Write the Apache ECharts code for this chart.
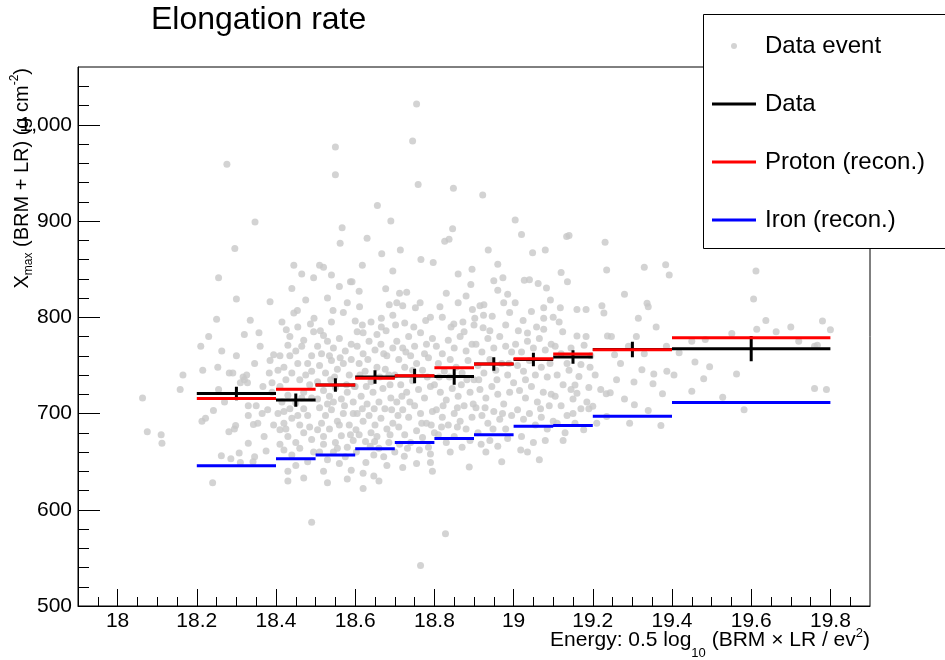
<!DOCTYPE html>
<html>
<head>
<meta charset="utf-8">
<script src="https://cdn.jsdelivr.net/npm/echarts@6/dist/echarts.min.js"></script>
<style>
html, body { margin: 0; padding: 0; background: #fff; }
#chart { width: 945px; height: 660px; }
</style>
</head>
<body>
<div id="chart"></div>
<script>
var FONT = '"Liberation Sans", Arial, sans-serif'

// bin edges of the profile, in 0.5 log10(BRM x LR / eV^2)
var binEdges = [18.2, 18.4, 18.5, 18.6, 18.7, 18.8, 18.9, 19.0, 19.1, 19.2, 19.4, 19.8]
var dataMean = [720.8, 713.9, 729.5, 738, 739, 738.5, 751.4, 756.2, 758.7, 766.5, 767.4]
var dataErr = [7, 7, 7, 7, 7.5, 8.5, 7, 7, 7, 8, 13]
var protonMean = [715.6, 725.3, 729.5, 736.5, 739.2, 747.6, 751.4, 757, 761.8, 766.3, 778.8]
var ironMean = [645.8, 653, 657, 663.5, 670, 674, 678, 686.8, 687.5, 697.2, 711.5]

// ticks
var xMajorTicks = [18, 18.2, 18.4, 18.6, 18.8, 19, 19.2, 19.4, 19.6, 19.8]
var xMinorTicks = [17.95, 18.05, 18.1, 18.15, 18.25, 18.3, 18.35, 18.45, 18.5, 18.55, 18.65, 18.7, 18.75,
	18.85, 18.9, 18.95, 19.05, 19.1, 19.15, 19.25, 19.3, 19.35, 19.45, 19.5, 19.55, 19.65, 19.7, 19.75, 19.85]
var yMajorTicks = [500, 600, 700, 800, 900, 1000]
var yMinorTicks = [520, 540, 560, 580, 620, 640, 660, 680, 720, 740, 760, 780, 820, 840, 860, 880,
	920, 940, 960, 980, 1020, 1040]

// individual events [energy, Xmax]
var events = [
	[18.063, 716], [18.075, 681], [18.11, 678], [18.112, 669], [18.158, 725], [18.165, 740],
	[18.276, 959], [18.347, 899], [18.296, 871.5], [18.255, 841], [18.385, 816], [18.335, 797], [18.32, 782],
	[18.357, 784], [18.24, 628], [18.263, 765], [18.253, 748], [18.282, 742], [18.291, 742], [18.317, 738],
	[18.326, 740], [18.346, 752], [18.383, 742], [18.394, 761], [18.385, 755], [18.31, 732], [18.328, 732],
	[18.367, 728], [18.255, 725], [18.33, 708], [18.35, 708], [18.365, 700], [18.379, 704], [18.242, 703],
	[18.213, 692], [18.222, 695], [18.298, 687.5], [18.295, 684], [18.281, 681], [18.33, 698], [18.343, 688.5],
	[18.354, 690], [18.375, 661], [18.262, 656], [18.286, 653], [18.307, 659], [18.31, 649], [18.346, 655],
	[18.342, 650], [18.32, 735], [18.25, 798], [18.3, 819], [18.21, 770], [18.23, 780], [18.394, 688], [18.27, 712],
	[18.36, 770], [18.215, 745], [18.39, 722], [18.37, 676], [18.33, 669], [18.39, 732], [18.3, 760],
	// 18.4 - 18.5
	[18.41, 760], [18.42, 748], [18.43, 771], [18.45, 765], [18.47, 776], [18.48, 752], [18.44, 742], [18.46, 735],
	[18.49, 744], [18.41, 728], [18.43, 719], [18.45, 711], [18.47, 722], [18.49, 716], [18.42, 702], [18.44, 695],
	[18.46, 688], [18.48, 698], [18.41, 683], [18.43, 676], [18.45, 670], [18.47, 680], [18.49, 673], [18.42, 662],
	[18.44, 657], [18.46, 664], [18.48, 650], [18.45, 646], [18.42, 690], [18.47, 705], [18.485, 730], [18.415, 795],
	[18.435, 780], [18.455, 790], [18.475, 818], [18.495, 785], [18.44, 830], [18.465, 845], [18.49, 760],
	[18.43, 640], [18.47, 633], [18.445, 854], [18.454, 807], [18.445, 804.5], [18.426, 787], [18.496, 799],
	[18.487, 793], [18.495, 841], [18.43, 630], [18.49, 587], [18.41, 668],
	[18.405, 745], [18.425, 735], [18.455, 752], [18.475, 740], [18.415, 712], [18.435, 705], [18.465, 716],
	[18.485, 686], [18.455, 698], [18.425, 684], [18.405, 700], [18.495, 660], [18.465, 770], [18.435, 760],
	// 18.5 - 18.6
	[18.51, 854], [18.52, 852], [18.54, 844], [18.56, 832], [18.55, 977], [18.55, 948], [18.567, 893], [18.562, 877],
	[18.52, 781], [18.544, 807], [18.588, 837], [18.592, 837], [18.505, 770], [18.515, 762], [18.53, 775],
	[18.545, 768], [18.56, 778], [18.575, 765], [18.59, 772], [18.51, 750], [18.525, 742], [18.54, 755],
	[18.555, 746], [18.57, 752], [18.585, 740], [18.505, 733], [18.52, 724], [18.535, 718], [18.55, 727],
	[18.565, 715], [18.58, 722], [18.595, 712], [18.51, 706], [18.525, 698], [18.54, 704], [18.555, 692],
	[18.57, 700], [18.585, 688], [18.505, 683], [18.52, 676], [18.535, 684], [18.55, 670], [18.565, 677],
	[18.58, 665], [18.595, 672], [18.51, 660], [18.53, 652], [18.545, 660], [18.56, 648], [18.575, 655],
	[18.59, 641], [18.52, 640], [18.54, 795], [18.57, 805], [18.58, 815], [18.53, 820], [18.6, 796], [18.515, 690],
	[18.548, 738], [18.578, 730], [18.53, 710], [18.56, 688], [18.595, 700], [18.53, 628], [18.58, 632],
	[18.512, 786], [18.535, 760], [18.562, 758], [18.59, 756], [18.505, 715], [18.545, 712], [18.573, 708],
	[18.52, 668], [18.555, 664], [18.588, 678], [18.598, 728], [18.538, 735],
	// 18.6 - 18.7
	[18.656, 916], [18.69, 900], [18.63, 882], [18.667, 866], [18.618, 854], [18.695, 848], [18.61, 827],
	[18.677, 829.5], [18.611, 811], [18.686, 813], [18.666, 799], [18.695, 802], [18.618, 792], [18.666, 790],
	[18.605, 785], [18.62, 784], [18.655, 782], [18.62, 638], [18.647, 635], [18.627, 649], [18.647, 657],
	[18.672, 655], [18.602, 683], [18.626, 671], [18.649, 671], [18.605, 770], [18.62, 762], [18.635, 775],
	[18.65, 766], [18.665, 772], [18.68, 760], [18.695, 768], [18.61, 752], [18.625, 744], [18.64, 733],
	[18.655, 748], [18.67, 726], [18.685, 740], [18.6, 728], [18.615, 718], [18.63, 710], [18.645, 722],
	[18.66, 712], [18.675, 705], [18.69, 716], [18.605, 700], [18.62, 692], [18.635, 698], [18.65, 688],
	[18.665, 695], [18.68, 684], [18.695, 690], [18.61, 678], [18.64, 680], [18.66, 664], [18.685, 670],
	[18.7, 660], [18.632, 756], [18.688, 730], [18.612, 740], [18.648, 705], [18.676, 746], [18.692, 704],
	[18.603, 660], [18.68, 646], [18.66, 630], [18.62, 622],
	[18.64, 795], [18.678, 786], [18.628, 728], [18.662, 738], [18.618, 705], [18.655, 676], [18.688, 678],
	[18.638, 666], [18.672, 762],
	// 18.7 - 18.8
	[18.755, 1021.5], [18.745, 983], [18.759, 938], [18.714, 870], [18.766, 860], [18.797, 857], [18.712, 825],
	[18.73, 826], [18.705, 815], [18.72, 812], [18.752, 810], [18.764, 815], [18.702, 792], [18.778, 796.5],
	[18.72, 644], [18.755, 648], [18.795, 640], [18.79, 649], [18.724, 655.5], [18.79, 658], [18.765, 542],
	[18.705, 775], [18.72, 768], [18.735, 780], [18.75, 770], [18.765, 784], [18.78, 772], [18.795, 778],
	[18.71, 756], [18.725, 748], [18.74, 760], [18.755, 752], [18.77, 745], [18.785, 758], [18.7, 740],
	[18.715, 730], [18.73, 722], [18.745, 734], [18.76, 725], [18.775, 716], [18.79, 728], [18.705, 712],
	[18.72, 704], [18.735, 696], [18.75, 708], [18.765, 700], [18.78, 690], [18.795, 702], [18.71, 686],
	[18.725, 678], [18.74, 670], [18.755, 682], [18.77, 675], [18.785, 665], [18.8, 680], [18.732, 664],
	[18.762, 662], [18.712, 668], [18.748, 790], [18.79, 800], [18.725, 794], [18.708, 698], [18.782, 738],
	[18.738, 712], [18.768, 690], [18.718, 718], [18.745, 745], [18.775, 762], [18.728, 764], [18.792, 688],
	// 18.8 - 18.9
	[18.848, 934], [18.826, 879], [18.837, 881], [18.846, 892], [18.814, 811], [18.849, 793], [18.892, 834],
	[18.896, 808], [18.875, 785], [18.9, 792], [18.828, 575], [18.888, 644.5], [18.805, 770], [18.82, 762],
	[18.835, 776], [18.85, 768], [18.865, 780], [18.88, 765], [18.895, 772], [18.81, 752], [18.825, 744],
	[18.84, 756], [18.855, 748], [18.87, 742], [18.885, 755], [18.8, 730], [18.815, 722], [18.83, 714],
	[18.845, 726], [18.86, 718], [18.875, 708], [18.89, 722], [18.805, 704], [18.82, 696], [18.835, 688],
	[18.85, 700], [18.865, 692], [18.88, 684], [18.895, 696], [18.81, 678], [18.83, 670], [18.85, 676],
	[18.87, 665], [18.89, 672], [18.84, 660], [18.82, 800], [18.86, 815], [18.88, 822], [18.83, 825],
	[18.86, 845], [18.895, 850], [18.812, 738], [18.868, 730],
	[18.838, 738], [18.882, 735], [18.822, 708], [18.858, 706], [18.842, 790], [18.872, 795], [18.818, 686],
	[18.858, 686], [18.898, 710],
	// 18.9 - 19.0
	[18.922, 927], [18.936, 870], [18.96, 855], [18.95, 838], [18.973, 841], [18.96, 828], [18.985, 824],
	[18.925, 813], [18.946, 801], [18.924, 802], [18.902, 799], [18.98, 792], [18.923, 789], [19.004, 901],
	[18.905, 772], [18.92, 764], [18.935, 778], [18.95, 768], [18.965, 780], [18.98, 770], [18.995, 764],
	[18.91, 750], [18.925, 742], [18.94, 756], [18.955, 745], [18.97, 752], [18.985, 740], [18.9, 735],
	[18.915, 725], [18.93, 716], [18.945, 728], [18.96, 720], [18.975, 710], [18.99, 722], [18.905, 706],
	[18.92, 698], [18.935, 690], [18.95, 702], [18.965, 694], [18.98, 684], [18.995, 698], [18.91, 680],
	[18.94, 672], [18.96, 666], [18.985, 674], [18.93, 660], [18.97, 650], [18.915, 812], [18.99, 805],
	[18.94, 786], [18.975, 815],
	[18.912, 735], [18.958, 735], [18.988, 752], [18.928, 706], [18.972, 700], [18.948, 684], [18.918, 668],
	// 19.0 - 19.1
	[19.02, 886], [19.048, 867], [19.08, 870], [19.027, 838.5], [19.04, 839], [19.062, 835], [19.083, 830.5],
	[19.093, 818], [19.004, 815], [19.076, 810], [19.024, 796.5], [19.076, 799], [19.035, 783.6], [19.076, 787.5],
	[19.018, 662], [19.005, 772], [19.02, 764], [19.035, 775], [19.05, 768], [19.065, 778], [19.08, 766],
	[19.095, 772], [19.01, 750], [19.025, 744], [19.04, 755], [19.055, 740], [19.07, 748], [19.085, 738],
	[19.0, 732], [19.015, 724], [19.03, 716], [19.045, 728], [19.06, 712], [19.075, 722], [19.09, 708],
	[19.01, 704], [19.025, 694], [19.04, 700], [19.055, 688], [19.07, 696], [19.085, 684], [19.1, 692],
	[19.02, 676], [19.05, 670], [19.08, 672], [19.035, 660], [19.065, 652], [19.095, 720], [19.045, 806],
	[19.1, 800], [19.012, 786], [19.058, 790], [19.092, 752], [19.03, 735], [19.068, 705],
	// 19.1 - 19.2
	[19.134, 884], [19.12, 846.5], [19.136, 837], [19.118, 810], [19.124, 785], [19.16, 808], [19.183, 808],
	[19.16, 780.5], [19.183, 780], [19.14, 885], [19.155, 729.5], [19.16, 721], [19.15, 715], [19.178, 771],
	[19.17, 751], [19.165, 738.5], [19.193, 748], [19.19, 727], [19.177, 683], [19.105, 770], [19.12, 762],
	[19.135, 752], [19.11, 740], [19.125, 730], [19.14, 745], [19.105, 718], [19.12, 708], [19.135, 698],
	[19.145, 725], [19.11, 690], [19.13, 680], [19.15, 700], [19.17, 705], [19.185, 712], [19.115, 795],
	[19.145, 768], [19.195, 760], [19.125, 672], [19.155, 690],
	// 19.2 - 19.4
	[19.231, 878], [19.235, 849], [19.33, 852], [19.384, 854.5], [19.393, 844], [19.28, 824], [19.223, 812],
	[19.228, 804.5], [19.337, 814.6], [19.34, 811], [19.315, 799], [19.237, 780.5], [19.247, 780], [19.206, 740],
	[19.2, 707.6], [19.19, 705], [19.22, 725], [19.234, 720.5], [19.244, 721.5], [19.235, 697], [19.255, 761],
	[19.33, 762], [19.386, 770], [19.304, 732.6], [19.352, 731], [19.376, 720.5], [19.305, 709], [19.34, 703],
	[19.293, 690], [19.372, 687.5], [19.354, 741], [19.324, 745.5], [19.387, 744], [19.27, 752], [19.29, 770],
	[19.26, 735], [19.31, 780], [19.36, 790], [19.28, 715], [19.21, 690],
	// 19.4 - 19.8
	[19.418, 763], [19.405, 740], [19.45, 775], [19.484, 777], [19.458, 753.5], [19.495, 748.6], [19.48, 736],
	[19.45, 723], [19.528, 717], [19.563, 741], [19.582, 704], [19.612, 848], [19.606, 819], [19.637, 796.5],
	[19.614, 787.5], [19.663, 785], [19.551, 783], [19.76, 726], [19.79, 725], [19.76, 770], [19.767, 771],
	[19.78, 796], [19.8, 787], [19.7, 790], [19.72, 775]
]

function stepData(means) {
	var out = []
	for (var i = 0; i < means.length; i++) {
		out.push([binEdges[i], means[i]], [binEdges[i + 1], means[i]], ['-', '-'])
	}
	return out
}

function profileData(means, errs) {
	var out = stepData(means)
	for (var i = 0; i < means.length; i++) {
		var c = (binEdges[i] + binEdges[i + 1]) / 2
		out.push([c, means[i] - errs[i]], [c, means[i] + errs[i]], ['-', '-'])
	}
	return out
}

var LINE_ICON = 'path://M0,0H44V3H0Z'

var chart = echarts.init(document.getElementById('chart'))
chart.setOption({
	animation: false,
	backgroundColor: '#fff',
	textStyle: { fontFamily: FONT },
	title: {
		text: 'Elongation rate',
		left: 151,
		top: 4,
		padding: 0,
		textStyle: { fontSize: 32, fontWeight: 'normal', color: '#000', fontFamily: FONT },
	},
	grid: {
		left: 78,
		right: 75,
		top: 67,
		bottom: 54,
		show: true,
		borderColor: '#000',
		borderWidth: 1,
		backgroundColor: '#fff',
	},
	xAxis: [
		{
			type: 'value',
			min: 17.9,
			max: 19.9,
			axisLine: { show: true, lineStyle: { color: '#000', width: 1 } },
			axisTick: { show: true, inside: true, length: 17, customValues: xMajorTicks, lineStyle: { color: '#000' } },
			axisLabel: { customValues: xMajorTicks, color: '#000', fontSize: 21, margin: 5, fontFamily: FONT },
			splitLine: { show: false },
		},
		{
			type: 'value',
			min: 17.9,
			max: 19.9,
			position: 'bottom',
			axisLine: { show: false },
			axisTick: { show: true, inside: true, length: 9, customValues: xMinorTicks, lineStyle: { color: '#000' } },
			axisLabel: { show: false },
			splitLine: { show: false },
		},
	],
	yAxis: [
		{
			type: 'value',
			min: 500,
			max: 1060,
			axisLine: { show: true, lineStyle: { color: '#000', width: 1 } },
			axisTick: { show: true, inside: true, length: 22, customValues: yMajorTicks, lineStyle: { color: '#000' } },
			axisLabel: { customValues: yMajorTicks, color: '#000', fontSize: 21, margin: 6, fontFamily: FONT },
			splitLine: { show: false },
		},
		{
			type: 'value',
			min: 500,
			max: 1060,
			position: 'left',
			offset: 0,
			axisLine: { show: false },
			axisTick: { show: true, inside: true, length: 11, customValues: yMinorTicks, lineStyle: { color: '#000' } },
			axisLabel: { show: false },
			splitLine: { show: false },
		},
	],
	legend: {
		orient: 'vertical',
		left: 712,
		top: 34,
		padding: 0,
		itemWidth: 44,
		itemHeight: 6,
		itemGap: 34,
		selectedMode: false,
		z: 60,
		textStyle: { fontSize: 24, lineHeight: 24, color: '#000', fontFamily: FONT, padding: [0, 0, 0, 4] },
		data: [
			{ name: 'Data event', icon: 'circle', itemStyle: { color: '#c8c8c8' } },
			{ name: 'Data', icon: LINE_ICON, itemStyle: { color: '#000000' } },
			{ name: 'Proton (recon.)', icon: LINE_ICON, itemStyle: { color: '#ff0000' } },
			{ name: 'Iron (recon.)', icon: LINE_ICON, itemStyle: { color: '#0000ff' } },
		],
	},
	graphic: [
		{
			type: 'rect',
			left: 703,
			top: 14,
			z: 50,
			shape: { width: 260, height: 234 },
			style: { fill: '#fff', stroke: '#000', lineWidth: 1 },
		},
		{
			type: 'text',
			x: 870,
			y: 640,
			z: 50,
			style: {
				text: 'Energy: 0.5 log{sub|10} (BRM × LR / ev{sup|2})',
				textAlign: 'right',
				textVerticalAlign: 'middle',
				fontSize: 21,
				fontFamily: FONT,
				fill: '#000',
				rich: {
					sub: { fontSize: 13, fontFamily: FONT, padding: [26, 0, 0, 0] },
					sup: { fontSize: 13, fontFamily: FONT, padding: [0, 0, 14, 0] },
				},
			},
		},
		{
			type: 'text',
			x: 22,
			y: 68,
			rotation: Math.PI / 2,
			z: 50,
			style: {
				text: 'X{sub|max} (BRM + LR) (g cm{sup|-2})',
				textAlign: 'right',
				textVerticalAlign: 'middle',
				fontSize: 20,
				fontFamily: FONT,
				fill: '#000',
				rich: {
					sub: { fontSize: 12, fontFamily: FONT, padding: [14, 0, 0, 0] },
					sup: { fontSize: 12, fontFamily: FONT, padding: [0, 0, 14, 0] },
				},
			},
		},
	],
	series: [
		{
			name: 'Data event',
			type: 'scatter',
			data: events,
			symbol: 'circle',
			symbolSize: 7,
			itemStyle: { color: '#c8c8c8' },
			z: 1,
		},
		{
			name: 'Data',
			type: 'line',
			data: profileData(dataMean, dataErr),
			symbol: 'none',
			connectNulls: false,
			color: '#000000',
			lineStyle: { color: '#000000', width: 3 },
			z: 3,
		},
		{
			name: 'Proton (recon.)',
			type: 'line',
			data: stepData(protonMean),
			symbol: 'none',
			connectNulls: false,
			color: '#ff0000',
			lineStyle: { color: '#ff0000', width: 3 },
			z: 4,
		},
		{
			name: 'Iron (recon.)',
			type: 'line',
			data: stepData(ironMean),
			symbol: 'none',
			connectNulls: false,
			color: '#0000ff',
			lineStyle: { color: '#0000ff', width: 3 },
			z: 5,
		},
	],
})
</script>
</body>
</html>
